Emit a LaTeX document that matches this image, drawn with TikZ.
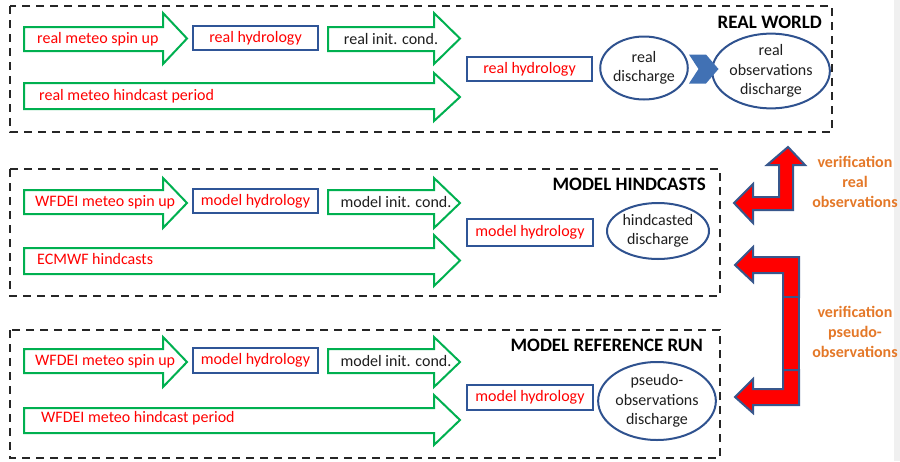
\documentclass[tikz,border=0pt]{standalone}
\usepackage{fontspec}
\setmainfont{Carlito}
\usetikzlibrary{shapes.geometric}
\definecolor{gr}{RGB}{0,176,80}
\definecolor{bluebd}{RGB}{47,85,151}
\definecolor{ellbd}{RGB}{47,82,143}
\definecolor{chev}{RGB}{65,113,180}
\definecolor{orng}{RGB}{228,120,40}
\definecolor{redbd}{RGB}{56,87,140}
\definecolor{stripc}{RGB}{240,240,240}
\definecolor{dtext}{RGB}{30,30,30}
\newcommand\garr[7]{\draw[garrow] (#1,#2) -- (#4,#2) -- (#4,#5) -- (#7,{(#5+#6)/2}) -- (#4,#6) -- (#4,#3) -- (#1,#3) -- cycle;}
\begin{document}
\begin{tikzpicture}[x=1pt,y=-1pt,
  garrow/.style={draw=gr,line width=2pt,fill=white,line join=miter},
  dbox/.style={draw=black!85,line width=1.8pt,dash pattern=on 8pt off 6pt},
  hbox/.style={draw=bluebd,line width=2pt,fill=white,inner sep=0pt,font=\fontsize{16}{19}\selectfont,text=red},
  lab/.style={inner sep=0pt,font=\fontsize{16}{19}\selectfont,text=red},
  blab/.style={inner sep=0pt,font=\fontsize{16}{19}\selectfont,text=dtext},
  ell/.style={ellipse,draw=ellbd,line width=2pt,inner sep=0pt,align=center,font=\fontsize{16}{19.5}\selectfont,text=dtext},
  ttl/.style={inner sep=0pt,font=\fontsize{19}{22}\selectfont\bfseries,text=black},
  vtext/.style={inner sep=0pt,align=center,font=\fontsize{16}{20}\selectfont\bfseries,text=orng},
  rarrow/.style={fill=red,draw=redbd,line width=2pt,line join=miter}]
\useasboundingbox (0,0) rectangle (900,461);
\fill[stripc] (894,0) rectangle (900,461);
% dashed frames
\draw[dbox] (10,6) rectangle (832,132);
\draw[dbox] (10,169) rectangle (720,296);
\draw[dbox] (10,330) rectangle (720,458);
% green arrows, box 1
\garr{24}{27}{51}{163}{13}{64}{187}
\garr{328}{27}{51}{434}{13}{64}{460}
\garr{24}{83}{109}{434}{73}{121}{460}
% box 2
\garr{24}{190}{214}{163}{178}{228}{187}
\garr{328}{190}{214}{434}{178}{228}{460}
\garr{24}{248}{274}{434}{235}{286}{460}
% box 3
\garr{24}{349}{373}{163}{337}{387}{187}
\garr{328}{349}{373}{434}{337}{387}{460}
\garr{24}{408}{433}{434}{395}{445}{460}
% labels box 1
\node[lab,anchor=west] (a1) at (37,39) {real meteo spin up};
\node[hbox,minimum width=125pt,minimum height=24pt] (h1) at (255.5,38) {real hydrology};
\node[blab] (i1) at (391,39) {real init. cond.};
\node[lab,anchor=west] (p1) at (39,96) {real meteo hindcast period};
\node[hbox,minimum width=125pt,minimum height=24pt] (m1) at (529.5,69) {real hydrology};
\node[ell,minimum width=80pt,minimum height=63pt] (rd) at (644,68) {real\\discharge};
\node[ell,minimum width=103pt,minimum height=70pt] (ro) at (771,71) {real\\observations\\discharge};
\fill[chev] (689,54.5) -- (706,54.5) -- (718.5,69) -- (706,83.5) -- (689,83.5) -- (698.5,69) -- cycle;
\node[ttl,anchor=east] (t1) at (822,22) {REAL WORLD};
% labels box 2
\node[lab,anchor=west] (a2) at (35,202) {WFDEI meteo spin up};
\node[hbox,minimum width=125pt,minimum height=24pt] (h2) at (255.5,201) {model hydrology};
\node[blab] (i2) at (396,202) {model init. cond.};
\node[lab,anchor=west] (p2) at (37,259) {ECMWF hindcasts};
\node[hbox,minimum width=126pt,minimum height=27pt] (m2) at (530,232.5) {model hydrology};
\node[ell,minimum width=102pt,minimum height=56pt] (hd) at (658,231) {hindcasted\\discharge};
\node[ttl,anchor=east] (t2) at (706,184) {MODEL HINDCASTS};
% labels box 3
\node[lab,anchor=west] (a3) at (35,361) {WFDEI meteo spin up};
\node[hbox,minimum width=125pt,minimum height=25pt] (h3) at (255.5,360.5) {model hydrology};
\node[blab] (i3) at (396,361) {model init. cond.};
\node[lab,anchor=west] (p3) at (41,418) {WFDEI meteo hindcast period};
\node[hbox,minimum width=126pt,minimum height=25pt] (m3) at (530,397.5) {model hydrology};
\node[ell,minimum width=101pt,minimum height=78pt] (pd) at (657,401) {pseudo-\\observations\\discharge};
\node[ttl,anchor=east] (t3) at (703,345) {MODEL REFERENCE RUN};
% red verification arrows
\filldraw[rarrow] (734,203) -- (753,184) -- (753,197) -- (779,197) -- (779,165) -- (767,165) -- (788,147) -- (805,165) -- (793,165) -- (793,210) -- (753,210) -- (753,223) -- cycle;
\filldraw[rarrow] (735,265) -- (753,247) -- (753,257) -- (799,257) -- (799,297) -- (783,297) -- (783,273) -- (753,273) -- (753,282) -- cycle;
\filldraw[rarrow] (783,297) rectangle (799,370);
\filldraw[rarrow] (783,370) -- (799,370) -- (799,405) -- (753,405) -- (753,413) -- (735,397) -- (753,379) -- (753,389) -- (783,389) -- cycle;
\node[vtext] (v1) at (855,182) {verification\\real\\observations};
\node[vtext] (v2) at (855,332) {verification\\pseudo-\\observations};
\end{tikzpicture}
\end{document}
